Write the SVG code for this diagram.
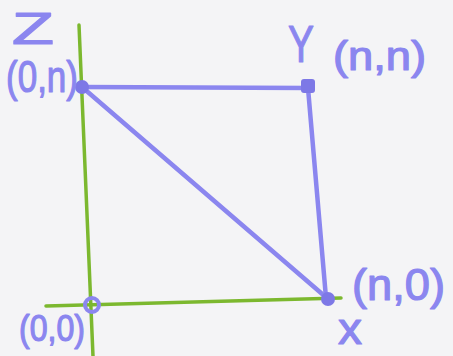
<svg xmlns="http://www.w3.org/2000/svg" width="453" height="356" viewBox="0 0 453 356">
<style>
.bg{fill:#f4f4f6}
.axis{stroke:#7cb82f;stroke-width:3.5;fill:none;stroke-linecap:round}
.edge{stroke:#8b86ef;stroke-width:4.5;fill:none;stroke-linecap:round}
.pt{fill:#7d78e6}
.ring{fill:none;stroke:#8b86ef;stroke-width:4}
.lbl{font-family:"Liberation Sans",Arial,sans-serif;fill:#8b86ef;stroke:#8b86ef;stroke-width:1.2;stroke-linejoin:round}
</style>
<rect class="bg" x="0" y="0" width="453" height="356"/>
<g id="axes">
<line class="axis" x1="79" y1="25" x2="93" y2="356"/>
<line class="axis" x1="46" y1="306" x2="341" y2="298"/>
</g>
<g id="connectors">
<line class="edge" x1="82" y1="87" x2="308" y2="88"/>
<line class="edge" x1="308" y1="88" x2="326" y2="298"/>
<line class="edge" x1="82" y1="87" x2="328" y2="299"/>
</g>
<g id="node-0n">
<circle class="pt" cx="82" cy="87" r="7"/>
<text class="lbl" x="12" y="44" style="font-size:45px" textLength="42" lengthAdjust="spacingAndGlyphs">Z</text>
<text class="lbl" x="6" y="92" style="font-size:45px" textLength="72" lengthAdjust="spacingAndGlyphs">(0,n)</text>
</g>
<g id="node-nn">
<rect class="pt" x="301" y="79" width="14" height="14" rx="3"/>
<text class="lbl" x="288" y="62" style="font-size:52px" textLength="26" lengthAdjust="spacingAndGlyphs">Y</text>
<text class="lbl" x="333" y="70" style="font-size:40px" textLength="93" lengthAdjust="spacingAndGlyphs">(n,n)</text>
</g>
<g id="node-00">
<circle class="ring" cx="92" cy="305" r="7"/>
<text class="lbl" x="19" y="341" style="font-size:36px" textLength="66" lengthAdjust="spacingAndGlyphs">(0,0)</text>
</g>
<g id="node-n0">
<circle class="pt" cx="328" cy="299" r="7"/>
<text class="lbl" x="352" y="300" style="font-size:44px" textLength="93" lengthAdjust="spacingAndGlyphs">(n,0)</text>
<text class="lbl" x="338" y="344" style="font-size:44px" textLength="24" lengthAdjust="spacingAndGlyphs">x</text>
</g>
</svg>
